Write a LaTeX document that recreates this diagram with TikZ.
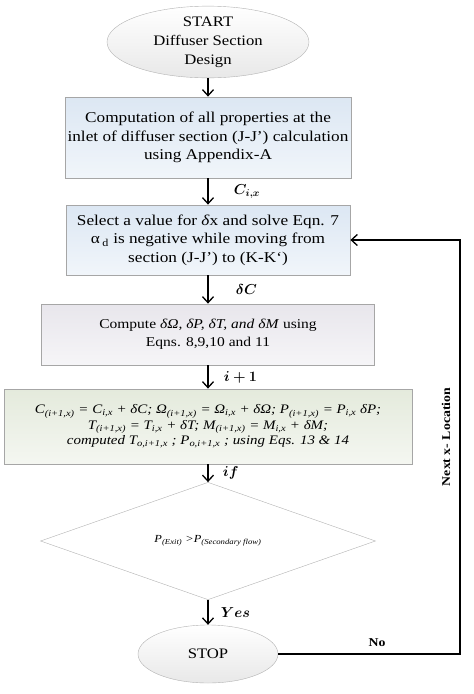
\documentclass[tikz,border=0pt]{standalone}
\usepackage{amsmath}
\usepackage{bm}
\usepackage{fontspec}
\setmainfont{Liberation Serif}[FakeStretch=1.15]
\usetikzlibrary{shapes.geometric,arrows.meta}

\definecolor{boxblue}{RGB}{220,231,243}
\definecolor{boxgray}{RGB}{232,230,236}
\definecolor{boxgreen}{RGB}{228,234,220}
\definecolor{ovalgray}{RGB}{232,232,232}

\tikzset{
	terminal/.style={ellipse, draw=gray!60, top color=white, bottom color=ovalgray,
		inner sep=0pt, align=center, font=\fontsize{14.5}{19}\selectfont},
	process/.style={rectangle, draw=gray!70, line width=0.8pt, inner sep=0pt,
		align=center, font=\fontsize{15}{18.5}\selectfont},
	decision/.style={diamond, draw=gray!60, fill=white, inner sep=0pt,
		align=center, font=\fontsize{10.8}{13}\selectfont},
	flow/.style={-{Straight Barb[length=6pt,width=11pt]}, line width=1.3pt},
	flowlbl/.style={font=\fontsize{14}{16}\selectfont, anchor=west}
}

\begin{document}
\begin{tikzpicture}[x=1pt, y=-1pt]

	\useasboundingbox (0,0) rectangle (474,694);

	% terminals
	\node[terminal, minimum width=202, minimum height=59] (start) at (208,42)
		{START\\Diffuser Section\\Design};
	\node[terminal, minimum width=140, minimum height=58] (stop) at (208,654) {STOP};

	% process boxes
	\node[process, top color=boxblue, bottom color=boxblue!40!white,
		minimum width=286, minimum height=81] (inlet) at (208,137.5)
		{Computation of all properties at the\\inlet of diffuser section (J-J’) calculation\\using Appendix-A};
	\node[process, top color=boxblue, bottom color=boxblue!40!white,
		minimum width=284, minimum height=70] (select) at (208,240)
		{Select a value for \textit{δ}x and solve Eqn. 7\\α\,\textsubscript{d} is negative while moving from\\section (J-J’) to (K-K`)};
	\node[process, top color=boxgray, bottom color=boxgray!40!white,
		minimum width=333, minimum height=61, font=\fontsize{13.5}{18}\selectfont] (compute) at (208,334.5)
		{Compute \textit{δΩ, δP, δT, and δM} using\\Eqns. 8,9,10 and 11};
	\node[process, top color=boxgreen, bottom color=boxgreen!40!white,
		minimum width=408, minimum height=75, font=\fontsize{13}{15.5}\selectfont\itshape] (update) at (208,426.5)
		{C\textsubscript{(i+1,x)} = C\textsubscript{i,x} + δC; Ω\textsubscript{(i+1,x)} = Ω\textsubscript{i,x} + δΩ; P\textsubscript{(i+1,x)} = P\textsubscript{i,x} δP;\\
		 T\textsubscript{(i+1,x)} = T\textsubscript{i,x} + δT; M\textsubscript{(i+1,x)} = M\textsubscript{i,x} + δM;\\
		 computed T\textsubscript{o,i+1,x} ; P\textsubscript{o,i+1,x} ; using Eqs. 13 \& 14};

	% decision
	\node[decision, minimum width=335, minimum height=108] (check) at (208,541)
		{\itshape P\textsubscript{(Exit)} >P\textsubscript{(Secondary flow)}};

	% main flow
	\draw[flow] (start) -- (inlet);
	\draw[flow] (inlet) -- node[flowlbl, xshift=22pt] {$\bm{C_{i,x}}$} (select);
	\draw[flow] (select) -- node[flowlbl, xshift=24pt] {$\bm{\delta C}$} (compute);
	\draw[flow] (compute) -- node[flowlbl, xshift=12pt] {$\bm{i+1}$} (update);
	\draw[flow] (update) -- node[flowlbl, xshift=11pt] {$\bm{if}$} (check);
	\draw[flow] (check) -- node[flowlbl, xshift=9pt] {$\bm{Yes}$} (stop);

	% loop back
	\coordinate (c1) at (460,654);
	\coordinate (c2) at (460,240);
	\draw[flow] (stop.east) -- (c1) -- (c2) -- (select.east);
	\node[font=\fontsize{12}{14}\selectfont\bfseries] (no) at (377,643) {No};
	\node[font=\fontsize{12}{14}\selectfont\bfseries, rotate=90] (next) at (446,437) {Next x- Location};

\end{tikzpicture}
\end{document}
